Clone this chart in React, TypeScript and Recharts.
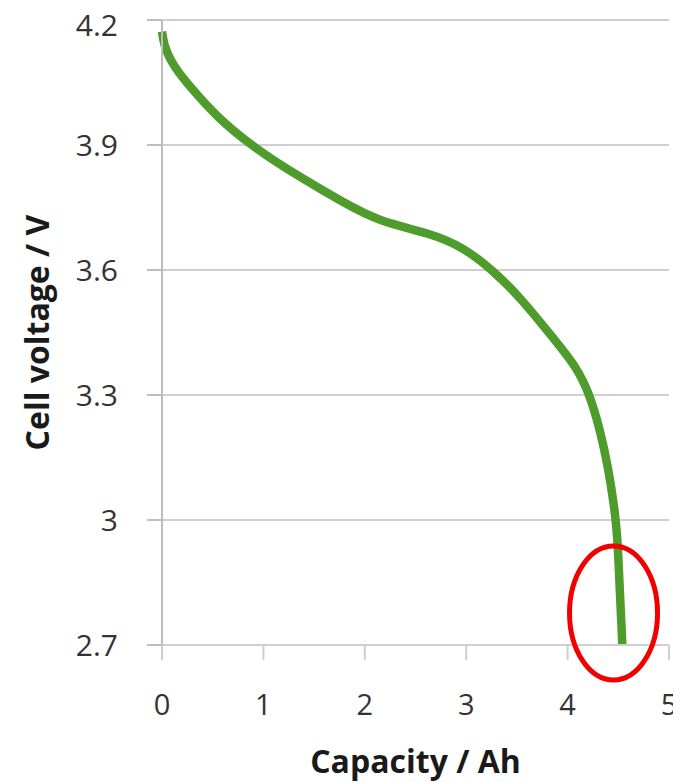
import { CartesianGrid, Line, LineChart, ReferenceDot, XAxis, YAxis } from "recharts"

// discharge curve: capacity (Ah) vs cell voltage (V)
const capacity = [
  0, 0.02, 0.08, 0.16, 0.28, 0.54, 0.9, 1.29, 1.78, 2.15, 2.64, 2.97, 3.26, 3.53, 3.85, 4.09,
  4.22, 4.32, 4.4, 4.46, 4.49, 4.515, 4.54,
]
const voltage = [
  4.172, 4.14, 4.105, 4.075, 4.039, 3.967, 3.895, 3.833, 3.763, 3.715, 3.689, 3.655, 3.6, 3.535,
  3.439, 3.367, 3.3, 3.216, 3.127, 3.031, 2.969, 2.83, 2.7,
]

const xTicks = [0, 1, 2, 3, 4, 5]
const yTicks = [2.7, 3, 3.3, 3.6, 3.9, 4.2]

// marked end-of-discharge region
const markCapacity = 4.453
const markVoltage = 2.777

const data = capacity.map((c, i) => ({ capacity: c, voltage: voltage[i] }))

const font = "'Open Sans', 'DejaVu Sans', sans-serif"
const gridColor = "#cfcfcf"

const EndMark = (props: any) => (
  <ellipse
    cx={props.cx}
    cy={props.cy}
    rx={44}
    ry={67}
    fill="none"
    stroke="#f20000"
    strokeWidth={5}
  />
)

export default function App() {
  return (
    <LineChart
      width={673}
      height={774}
      data={data}
      margin={{ top: 12, right: 12, bottom: 0, left: 0 }}
      style={{ fontFamily: font }}
    >
      <CartesianGrid vertical={false} stroke={gridColor} strokeWidth={2} />
      <XAxis
        type="number"
        dataKey="capacity"
        domain={[0, 5]}
        ticks={xTicks}
        height={137}
        tickSize={15}
        tickMargin={34}
        stroke={gridColor}
        strokeWidth={2}
        tick={{ fill: "#333", fontSize: 29, fontFamily: font }}
        label={{
          value: "Capacity / Ah",
          position: "insideBottom",
          offset: 9,
          style: { fill: "#1a1a1a", fontSize: 32, fontWeight: 700, fontFamily: font },
        }}
      />
      <YAxis
        type="number"
        dataKey="voltage"
        domain={[2.7, 4.2]}
        ticks={yTicks}
        width={154}
        tickSize={15}
        tickMargin={29}
        stroke="#bdbdbd"
        strokeWidth={2}
        tick={{ fill: "#333", fontSize: 30, fontFamily: font }}
        label={{
          value: "Cell voltage / V",
          angle: -90,
          position: "insideLeft",
          offset: 30,
          style: { fill: "#1a1a1a", fontSize: 32, fontWeight: 700, fontFamily: font, textAnchor: "middle" },
        }}
      />
      <Line
        type="basis"
        dataKey="voltage"
        stroke="#4e9c2c"
        strokeWidth={8.5}
        strokeLinecap="butt"
        dot={false}
        isAnimationActive={false}
      />
      <ReferenceDot x={markCapacity} y={markVoltage} shape={EndMark} ifOverflow="visible" />
    </LineChart>
  )
}
